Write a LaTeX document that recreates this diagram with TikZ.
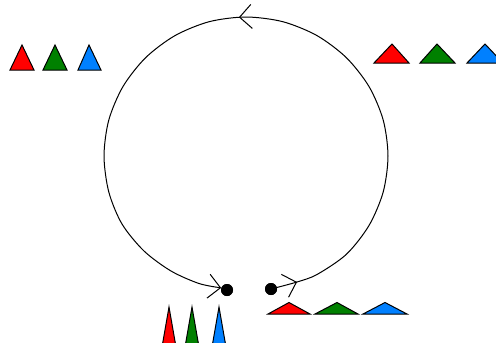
\documentclass[tikz,border=0pt]{standalone}
\usetikzlibrary{arrows.meta,decorations.markings}
\definecolor{tred}{RGB}{255,0,0}
\definecolor{tgreen}{RGB}{0,128,0}
\definecolor{tblue}{RGB}{0,128,255}
% #1 left x, #2 right x, #3 base y, #4 apex x, #5 apex y, #6 colour
\newcommand\mytri[6]{\filldraw[tri,fill=#6] (#1,#3) -- (#4,#5) -- (#2,#3) -- cycle;}
\tikzset{
  tri/.style={draw=black, line width=1pt, line join=miter},
  dotnode/.style={circle, fill=black, inner sep=0pt, minimum size=12pt},
  loopline/.style={line width=1pt, black}
}
\begin{document}
\begin{tikzpicture}[x=1pt,y=-1pt]
\useasboundingbox (0,0) rectangle (496,343);
\clip (0,0) rectangle (496,343);
% dots
\node[dotnode] (rdot) at (271,289) {};
\node[dotnode] (ldot) at (227,290) {};
% loop
\draw[loopline, -{Straight Barb[length=12pt,width=24pt]},
  postaction={decorate},
  decoration={markings,
    mark=at position 27pt with {\arrow{Straight Barb[length=12pt,width=24pt]}},
    mark=at position 0.509 with {\arrow{Straight Barb[length=12pt,width=24pt]}}}]
  plot[smooth] coordinates {(rdot.center) (297,282) (317,274.5) (346.4,254.3) (369,225.5) (383.2,192) (388,156)
    (383.2,120) (369,86.5) (346.4,57.7) (317,35.6) (282.8,21.7) (246,17)
    (209.2,21.7) (175,35.6) (145.6,57.7) (123,86.5) (108.8,120) (104,156)
    (108.8,192) (122,224) (144,251) (171,271) (199,283.5) (ldot.160)};
\node[dotnode] at (rdot) {};
\node[dotnode] at (ldot) {};
% top-left triangles
\mytri{10}{34}{70}{22}{45}{tred}
\mytri{43}{67}{70}{55}{45}{tgreen}
\mytri{78}{101}{70}{89}{45}{tblue}
% top-right triangles
\mytri{374}{409}{63}{392}{44}{tred}
\mytri{420}{455}{63}{437}{44}{tgreen}
\mytri{467}{503}{63}{485}{44}{tblue}
% bottom-left triangles
\mytri{162}{176}{347}{169}{307}{tred}
\mytri{185}{199}{347}{192}{307}{tgreen}
\mytri{212}{226}{347}{219}{307}{tblue}
% bottom-right triangles
\mytri{268}{310}{314}{289}{302.5}{tred}
\mytri{315}{358}{314}{337}{302.5}{tgreen}
\mytri{363}{407}{314}{385}{302.5}{tblue}
\end{tikzpicture}
\end{document}
